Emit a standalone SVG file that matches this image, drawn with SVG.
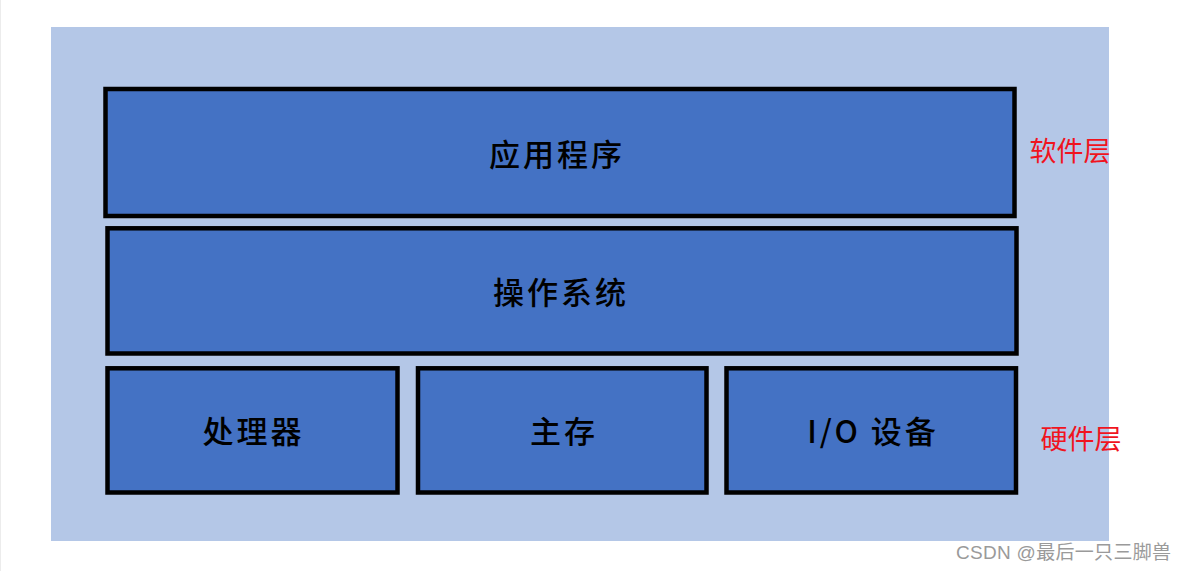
<svg xmlns="http://www.w3.org/2000/svg" width="1182" height="571" viewBox="0 0 1182 571">
<style>
.box{fill:#4472C4;stroke:#000;stroke-width:4.5}
.lbl{font-family:"Noto Sans CJK SC","Noto Sans",sans-serif;font-size:31px;font-weight:500;fill:#000;text-anchor:middle;dominant-baseline:central;letter-spacing:3px}
.red{font-family:"Noto Sans CJK SC",sans-serif;font-size:27px;fill:#F0141E;text-anchor:middle;dominant-baseline:central}
.wm{font-family:"Liberation Sans","Noto Sans CJK SC",sans-serif;font-size:19px;fill:#9a9a9a;dominant-baseline:central;letter-spacing:0.3px}
</style>
<rect x="0" y="0" width="1182" height="571" fill="#fff"/>
<line x1="0.5" y1="0" x2="0.5" y2="571" stroke="#ececec" stroke-width="1"/>
<rect id="background" x="51" y="27" width="1058" height="514" fill="#B4C7E7"/>
<g id="app">
<rect class="box" x="105.5" y="89" width="909" height="127"/>
<text class="lbl" x="557" y="152">应用程序</text>
</g>
<g id="os">
<rect class="box" x="107.5" y="228.3" width="909" height="125.2"/>
<text class="lbl" x="561" y="290.5">操作系统</text>
</g>
<g id="cpu">
<rect class="box" x="107.5" y="368.3" width="290" height="124.2"/>
<text class="lbl" x="253.5" y="429.5">处理器</text>
</g>
<g id="mem">
<rect class="box" x="418" y="368.3" width="288.5" height="124.2"/>
<text class="lbl" x="564" y="429.5">主存</text>
</g>
<g id="io">
<rect class="box" x="726.5" y="368.3" width="289.5" height="124.2"/>
<text class="lbl" x="873" y="429.5">I/O 设备</text>
</g>
<g id="labels">
<text class="red" x="1070" y="149">软件层</text>
<text class="red" x="1081" y="437">硬件层</text>
</g>
<g id="connectors"></g>
<text class="wm" x="956" y="552">CSDN @最后一只三脚兽</text>
</svg>
